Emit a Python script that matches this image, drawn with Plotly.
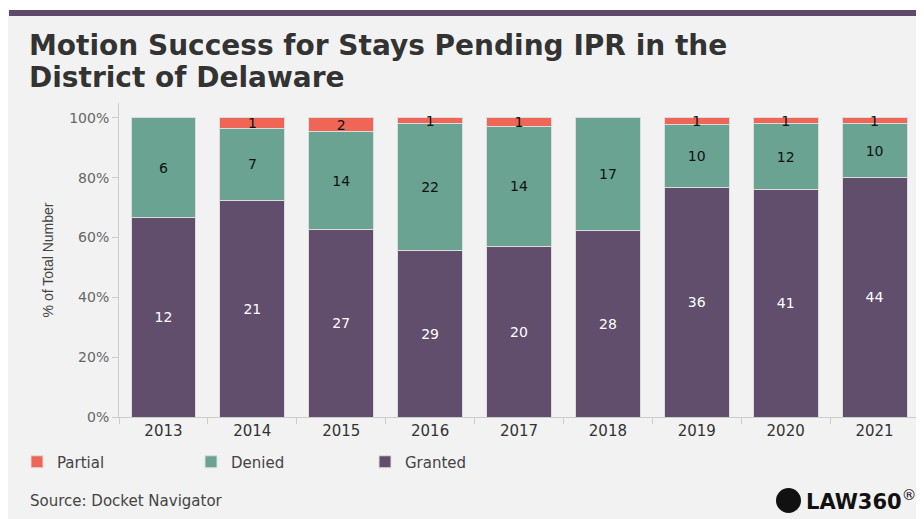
import plotly.graph_objects as go

years = ["2013", "2014", "2015", "2016", "2017", "2018", "2019", "2020", "2021"]
granted = [12, 21, 27, 29, 20, 28, 36, 41, 44]
denied = [6, 7, 14, 22, 14, 17, 10, 12, 10]
partial = [0, 1, 2, 1, 1, 0, 1, 1, 1]
y_ticks = [0, 20, 40, 60, 80, 100]
y_tick_labels = ["0%", "20%", "40%", "60%", "80%", "100%"]

C_GRANTED = "#614d6c"
C_DENIED = "#6aa391"
C_PARTIAL = "#ef6656"
FONT = "DejaVu Sans, Verdana, sans-serif"
FONT_NARROW = "Liberation Sans, Arial, sans-serif"

def lbl(vals):
    return [str(v) if v else "" for v in vals]

fig = go.Figure()
for name, vals, col, tcol in [("Granted", granted, C_GRANTED, "white"),
                              ("Denied", denied, C_DENIED, "#111111"),
                              ("Partial", partial, C_PARTIAL, "#111111")]:
    fig.add_trace(go.Bar(
        x=years, y=vals, name=name, marker=dict(color=col, line=dict(color="#dcdcdc", width=1)),
        text=lbl(vals), textposition="inside", insidetextanchor="middle", textangle=0,
        textfont=dict(color=tcol, size=14, family=FONT), constraintext="none",
        hoverinfo="x+y+name"))

# figure-pixel helpers (figure drawn at 8px body offset)
W, H = 916, 511
L, R, T, B = 111, 911, 95, 409
def px(x): return (x - L) / (R - L)
def py(y): return (B - y) / (B - T)

shapes = [
    dict(type="rect", xref="paper", yref="paper", x0=px(-5), x1=px(W + 5), y0=py(2), y1=py(-5),
         fillcolor="white", line=dict(width=0), layer="above"),
    dict(type="rect", xref="paper", yref="paper", x0=px(1), x1=px(W + 5), y0=py(8), y1=py(2),
         fillcolor="#5e4b6b", line=dict(width=0), layer="above"),
    dict(type="circle", xref="paper", yref="paper", x0=px(768), x1=px(793), y0=py(505), y1=py(480),
         fillcolor="#111111", line=dict(width=0)),
]

TITLE_FONT = dict(family=FONT, size=28, color="#333333")
annotations = [
    dict(text="<b>Motion Success for Stays Pending IPR in the</b>",
         xref="paper", yref="paper", x=px(19), y=py(38), xanchor="left", yanchor="middle",
         align="left", showarrow=False, font=TITLE_FONT),
    dict(text="<b>District of Delaware</b>",
         xref="paper", yref="paper", x=px(19), y=py(70), xanchor="left", yanchor="middle",
         align="left", showarrow=False, font=TITLE_FONT),
    dict(text="Source: Docket Navigator", xref="paper", yref="paper", x=px(20), y=py(493),
         xanchor="left", yanchor="middle", showarrow=False,
         font=dict(family=FONT, size=15, color="#444444")),
    dict(text="<b>LAW360</b><sup>®</sup>", xref="paper", yref="paper", x=px(796), y=py(492),
         xanchor="left", yanchor="middle", showarrow=False,
         font=dict(family=FONT, size=21, color="#111111")),
]

fig.update_layout(
    barmode="stack", barnorm="percent", bargap=0.27,
    width=W, height=H,
    margin=dict(l=L, r=W - R, t=T, b=H - B),
    paper_bgcolor="#f2f2f2", plot_bgcolor="#f2f2f2",
    font=dict(family=FONT, color="#555555"),
    shapes=shapes, annotations=annotations,
    uniformtext=dict(minsize=14, mode="show"),
    legend=dict(orientation="h", traceorder="reversed", x=px(9), y=py(454),
                xanchor="left", yanchor="middle", entrywidth=129, entrywidthmode="pixels",
                font=dict(family=FONT, size=15, color="#444444"), bgcolor="rgba(0,0,0,0)"),
    showlegend=True,
)
fig.update_yaxes(range=[0, 105], tickvals=y_ticks, ticktext=y_tick_labels,
                 showgrid=False, zeroline=False, showline=True, linecolor="#cccccc",
                 ticks="outside", ticklen=6, tickcolor="#cccccc",
                 tickfont=dict(size=14, color="#666666"),
                 title=dict(text="% of Total Number", font=dict(family=FONT_NARROW, size=14, color="#444444"), standoff=12))
fig.update_xaxes(showgrid=False, showline=True, linecolor="#cccccc", ticks="outside",
                 tickson="boundaries", ticklen=6, tickcolor="#cccccc",
                 tickfont=dict(size=15, color="#333333"))

fig.write_html("out.html")
